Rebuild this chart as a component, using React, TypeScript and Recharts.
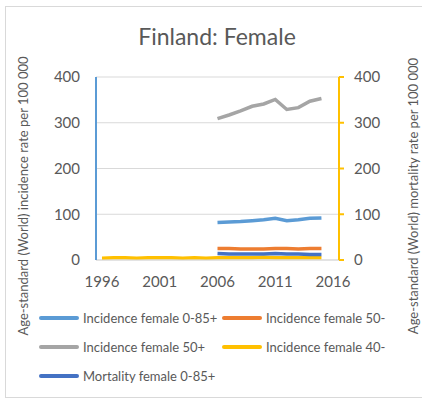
import React from 'react';
import { LineChart, Line, XAxis, YAxis, CartesianGrid, Legend, Label } from 'recharts';

const years = [1996, 1997, 1998, 1999, 2000, 2001, 2002, 2003, 2004, 2005, 2006, 2007, 2008, 2009, 2010, 2011, 2012, 2013, 2014, 2015, 2016];
const incidenceAll = [null, null, null, null, null, null, null, null, null, null, 82, 83, 84, 86, 88, 91, 86, 88, 91, 92, null];
const incidenceUnder50 = [null, null, null, null, null, null, null, null, null, null, 25, 25, 24, 24, 24, 25, 25, 24, 25, 25, null];
const incidenceOver50 = [null, null, null, null, null, null, null, null, null, null, 309, 317, 326, 336, 341, 351, 329, 333, 347, 353, null];
const incidenceUnder40 = [4, 5, 5, 4, 5, 5, 5, 4, 5, 4, 5, 5, 5, 5, 6, 5, 5, 5, 5, 5, null];
const mortalityAll = [null, null, null, null, null, null, null, null, null, null, 14, 13, 13, 13, 13, 14, 13, 13, 12, 12, null];
const yTicks = [0, 100, 200, 300, 400];

const data = years.map((y, i) => ({
  year: y,
  incAll: incidenceAll[i],
  inc50m: incidenceUnder50[i],
  inc50p: incidenceOver50[i],
  inc40m: incidenceUnder40[i],
  mortAll: mortalityAll[i],
}));

const series = [
  { key: 'incAll', name: 'Incidence female 0-85+', color: '#5B9BD5', axis: 'left' },
  { key: 'inc50m', name: 'Incidence female 50-', color: '#ED7D31', axis: 'left' },
  { key: 'inc50p', name: 'Incidence female 50+', color: '#A5A5A5', axis: 'left' },
  { key: 'inc40m', name: 'Incidence female 40-', color: '#FFC000', axis: 'right' },
  { key: 'mortAll', name: 'Mortality female 0-85+', color: '#4472C4', axis: 'left' },
];

const FONT = 'Lato, "Open Sans", sans-serif';
const GREY = '#595959';

function ChartLegend() {
  return (
    <div style={{ position: 'relative', width: 422, height: 90, fontFamily: FONT, fontSize: 13, color: GREY }}>
      {series.map((s, i) => {
        const col = i % 2;
        const row = Math.floor(i / 2);
        return (
          <div
            key={s.key}
            style={{ position: 'absolute', left: col === 0 ? 39 : 222, top: row * 29, height: 20, display: 'flex', alignItems: 'center', whiteSpace: 'nowrap' }}
          >
            <span style={{ display: 'inline-block', width: 40, height: 4, borderRadius: 2, background: s.color, marginRight: 4 }} />
            {s.name}
          </div>
        );
      })}
    </div>
  );
}

function sideLabel(text: string, x: number) {
  return () => (
    <text x={x} y={196} transform={`rotate(-90, ${x}, 196)`} textAnchor="middle" dominantBaseline="central" fill={GREY} fontSize={13} fontFamily={FONT}>
      {text}
    </text>
  );
}

export default function App() {
  return (
    <div style={{ position: 'absolute', left: 0, top: 0, width: 422, height: 400, background: '#fff' }}>
      <div style={{ position: 'absolute', left: 5, top: 6, width: 420, height: 392, border: '1px solid #d9d9d9', boxSizing: 'border-box' }} />
      <div style={{ position: 'absolute', left: 0, top: 22, width: 434, textAlign: 'center', fontFamily: FONT, fontSize: 23, color: GREY }}>
        Finland: Female
      </div>
      <LineChart width={422} height={400} data={data} margin={{ top: 77, right: 0, bottom: 0, left: 0 }}>
        <CartesianGrid vertical={false} stroke="#d9d9d9" yAxisId="left" />
        <XAxis
          dataKey="year"
          interval={4}
          height={50}
          padding={{ left: 6, right: 6 }}
          tickLine={false}
          tickSize={0}
          tickMargin={16}
          axisLine={{ stroke: '#d9d9d9' }}
          tick={{ fill: GREY, fontSize: 15, fontFamily: FONT }}
        />
        <YAxis
          yAxisId="left"
          width={96}
          domain={[0, 400]}
          ticks={yTicks}
          tickLine={false}
          tickSize={0}
          tickMargin={16}
          axisLine={{ stroke: '#5B9BD5', strokeWidth: 2 }}
          tick={{ fill: GREY, fontSize: 15, fontFamily: FONT }}
        >
          <Label content={sideLabel('Age-standard (World) incidence rate per 100 000', 23)} />
        </YAxis>
        <YAxis
          yAxisId="right"
          orientation="right"
          width={83}
          domain={[0, 400]}
          ticks={yTicks}
          tickSize={5}
          tickMargin={10}
          tickLine={{ stroke: '#FFC000', strokeWidth: 2 }}
          axisLine={{ stroke: '#FFC000', strokeWidth: 2 }}
          tick={{ fill: GREY, fontSize: 15, fontFamily: FONT, textAnchor: 'start' }}
        >
          <Label content={sideLabel('Age-standard (World) mortality rate per 100 000', 413)} />
        </YAxis>
        <Legend
          verticalAlign="bottom"
          content={() => <ChartLegend />}
          wrapperStyle={{ position: 'absolute', left: 0, top: 308, width: 422 }}
        />
        {series.map((s) => (
          <Line
            key={s.key}
            yAxisId={s.axis}
            type="linear"
            dataKey={s.key}
            name={s.name}
            stroke={s.color}
            strokeWidth={3.5}
            dot={false}
            activeDot={false}
            connectNulls={false}
            isAnimationActive={false}
          />
        ))}
      </LineChart>
    </div>
  );
}
